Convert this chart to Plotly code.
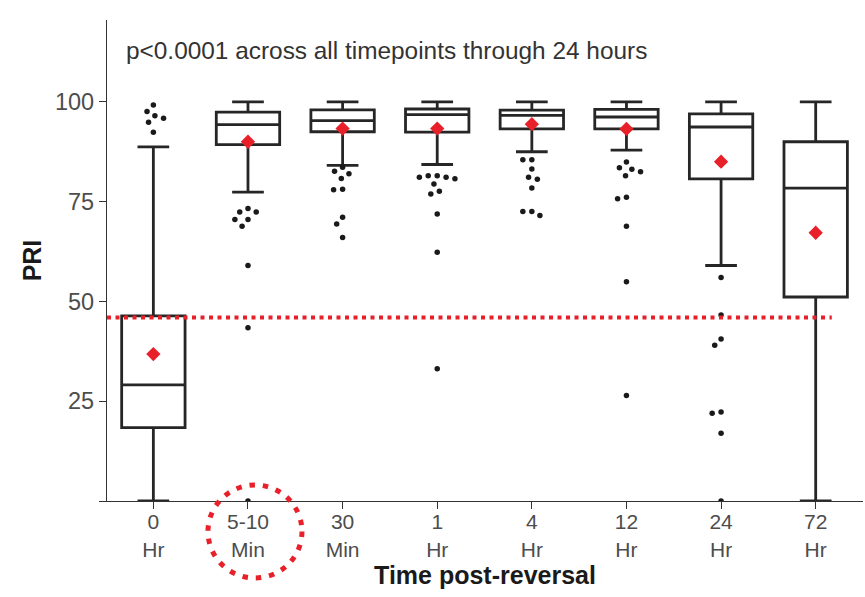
import math
import plotly.graph_objects as go

# ---------------- data ----------------
categories = ["0<br>Hr", "5-10<br>Min", "30<br>Min", "1<br>Hr", "4<br>Hr", "12<br>Hr", "24<br>Hr", "72<br>Hr"]
q1 = [18.4, 89.3, 92.5, 92.4, 93.2, 93.2, 80.7, 51.1]
median = [29.1, 94.3, 95.3, 96.8, 96.6, 96.2, 93.7, 78.4]
q3 = [46.4, 97.4, 98.0, 98.2, 97.9, 98.1, 97.0, 90.0]
lower_whisker = [0.0, 77.4, 84.1, 84.3, 87.5, 87.9, 59.0, 0.0]
upper_whisker = [88.7, 100.0, 100.0, 100.0, 100.0, 100.0, 100.0, 100.0]
mean_pri = [36.8, 90.0, 93.3, 93.3, 94.4, 93.2, 85.0, 67.2]

outliers_0hr = [99.2, 97.6, 96.5, 95.9, 94.9, 92.4]
outliers_5min = [73.3, 72.4, 72.4, 70.5, 70.5, 68.8, 59.0, 43.4, 0.0]
outliers_30min = [83.6, 82.6, 82.0, 80.8, 78.1, 78.0, 71.1, 69.4, 66.0]
outliers_1hr = [81.5, 81.5, 81.1, 81.1, 80.7, 79.4, 77.6, 76.9, 71.9, 62.3, 33.1]
outliers_4hr = [85.5, 85.5, 83.2, 81.1, 80.6, 78.4, 72.5, 72.5, 71.5]
outliers_12hr = [84.9, 83.5, 83.1, 82.5, 81.5, 76.1, 75.7, 68.8, 54.9, 26.4]
outliers_24hr = [56.0, 46.6, 40.6, 39.0, 22.3, 22.0, 17.0, 0.0]
outliers_72hr = []

threshold_pri = 46.0
annotation_text = "p<0.0001 across all timepoints through 24 hours"

# ---------------- layout constants ----------------
W, H = 865, 597
ML, MR, MT, MB = 107, 2, 20, 96
XR = [-0.49, 7.5]
YR = [0, 120.5]
PW, PH = W - ML - MR, H - MT - MB
px_per_x = PW / (XR[1] - XR[0])
px_per_y = PH / (YR[1] - YR[0])

FONT = "Arial, Liberation Sans, sans-serif"
RED = "#e8202a"
INK = "#262626"


def swarm(values, center, diam=9.0):
    """simple beeswarm: place points as close to the centre as possible"""
    placed = []  # (dx_px, y_px)
    out_x = []
    for v in sorted(values, reverse=True):
        y = v * px_per_y
        cands = [0.0]
        for (px, py) in placed:
            dy = abs(py - y)
            if dy < diam:
                d = math.sqrt(diam ** 2 - dy ** 2)
                cands += [px + d, px - d]
        cands.sort(key=lambda c: (abs(c), c))
        for c in cands:
            if all((c - px) ** 2 + (y - py) ** 2 >= diam ** 2 - 1e-6 for px, py in placed):
                placed.append((c, y))
                out_x.append((center + c / px_per_x, v))
                break
    return out_x


all_outliers = [outliers_0hr, outliers_5min, outliers_30min, outliers_1hr,
                outliers_4hr, outliers_12hr, outliers_24hr, outliers_72hr]
ox, oy = [], []
for i, vals in enumerate(all_outliers):
    for x, v in swarm(vals, i):
        ox.append(x)
        oy.append(v)

positions = list(range(len(categories)))

fig = go.Figure()
fig.add_trace(go.Box(
    x=positions, q1=q1, median=median, q3=q3,
    lowerfence=lower_whisker, upperfence=upper_whisker,
    width=0.67, whiskerwidth=0.5, fillcolor="white",
    line=dict(color=INK, width=2.8), boxpoints=False,
    showlegend=False, hoverinfo="skip",
))
fig.add_trace(go.Scatter(
    x=ox, y=oy, mode="markers",
    marker=dict(color="#1a1a1a", size=5.5),
    showlegend=False, hoverinfo="skip",
))
fig.add_trace(go.Scatter(
    x=positions, y=mean_pri, mode="markers",
    marker=dict(symbol="diamond", color=RED, size=11),
    showlegend=False, hoverinfo="skip",
))

# threshold dotted line
fig.add_shape(type="line", xref="x", yref="y", x0=XR[0], x1=7.17,
              y0=threshold_pri, y1=threshold_pri,
              line=dict(color=RED, width=4, dash="4px,4.5px"), layer="above")


def px_to_paper_x(px):
    return (px - ML) / PW


def px_to_paper_y(py):
    return (H - MB - py) / PH


# dotted circle around the 5-10 Min label
cx_px = ML + (1 - XR[0]) * px_per_x + 7
fig.add_shape(type="circle", xref="paper", yref="paper",
              x0=px_to_paper_x(cx_px - 47), x1=px_to_paper_x(cx_px + 47),
              y0=px_to_paper_y(578), y1=px_to_paper_y(485),
              line=dict(color=RED, width=5, dash="5.5px,7.9px"), layer="above")

fig.add_annotation(text=annotation_text, xref="paper", yref="paper",
                   x=px_to_paper_x(124), y=px_to_paper_y(50),
                   xanchor="left", yanchor="middle", showarrow=False,
                   font=dict(family=FONT, size=24.4, color="#333333"))

axis_common = dict(showline=True, linecolor="#333333", linewidth=1.2,
                   ticks="outside", ticklen=7, tickwidth=1.2, tickcolor="#333333",
                   showgrid=False, zeroline=False)

fig.update_layout(
    width=W, height=H,
    margin=dict(l=ML, r=MR, t=MT, b=MB),
    plot_bgcolor="white", paper_bgcolor="white",
    font=dict(family=FONT),
    xaxis=dict(range=XR, tickvals=positions, ticktext=categories,
               tickfont=dict(family=FONT, size=21, color="#4d4d4d"),
               ticklabelstandoff=-5,
               title=dict(text="<b>Time post-reversal</b>", standoff=2,
                          font=dict(family=FONT, size=25, color="#1a1a1a")),
               **axis_common),
    yaxis=dict(range=YR, tickvals=[0, 25, 50, 75, 100],
               ticktext=["", "25", "50", "75", "100"],
               tickfont=dict(family=FONT, size=23.5, color="#4d4d4d"),
               title=dict(text="<b>PRI</b>", standoff=6,
                          font=dict(family=FONT, size=25, color="#1a1a1a")),
               **axis_common),
)

fig.write_html("out.html")
